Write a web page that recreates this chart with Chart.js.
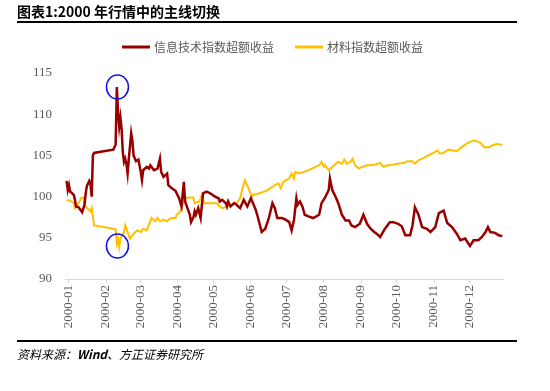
<!DOCTYPE html>
<html>
<head>
<meta charset="utf-8">
<script src="https://cdn.jsdelivr.net/npm/chart.js@4.4.1/dist/chart.umd.min.js"></script>
<style>
body{margin:0;background:#fff;}
</style>
</head>
<body>
<canvas id="trendChart" width="550" height="391"></canvas>
<script>

// day of year 2000 (Jan 1 = 0)
const itDays = [-2,-1,0,1,2,4,5,6,8,10,11,13,14,15,17,18,19,20,21,29,37,39,40,41,42,43,44,45,46,47,48,49,50,52,53,54,56,58,60,61,62,65,67,68,71,74,76,77,79,82,83,86,89,92,94,96,97,99,101,102,104,105,106,108,110,112,115,118,122,125,126,128,131,132,133,135,138,140,143,146,149,152,156,158,161,164,167,170,172,174,178,181,184,186,188,190,191,193,195,197,200,204,209,211,214,217,218,220,223,225,228,231,234,236,239,243,246,249,252,255,257,260,264,268,271,275,278,281,285,287,289,292,295,299,302,306,309,313,316,320,324,327,331,335,338,342,345,348,350,352,356,359,362];
const itValues = [101.9,100.8,101.4,100.6,100.5,100.2,99.6,98.8,98.7,98.3,98.1,99.0,100.4,101.3,101.9,101.5,100.0,105.0,105.3,105.5,105.7,106.3,113.3,110.3,108.5,109.6,108.2,105.4,104.2,104.6,104.0,102.8,104.6,107.7,106.8,105.0,104.3,104.5,103.0,102.0,103.2,103.6,103.4,103.8,103.2,103.4,104.6,103.0,102.4,102.8,101.4,101.0,100.7,99.8,98.8,101.8,99.4,98.6,97.8,96.9,97.5,98.2,97.8,98.6,97.4,100.4,100.6,100.4,100.0,99.8,99.4,99.6,99.2,98.8,99.4,98.8,99.2,99.0,98.6,99.6,98.8,99.8,98.4,97.4,95.7,96.1,97.4,99.2,98.6,97.4,97.4,97.2,96.9,95.9,97.2,99.8,99.0,99.4,98.8,97.8,97.6,97.4,97.8,99.2,99.9,100.8,102.2,100.8,99.9,99.2,97.8,97.1,97.1,96.5,96.3,96.7,97.8,96.7,96.1,95.7,95.5,95.1,96.1,96.9,96.9,96.7,96.4,95.3,95.3,96.5,98.7,97.8,96.3,96.1,95.7,96.3,98.0,98.3,96.8,96.3,95.5,94.7,94.9,94.0,94.7,94.7,95.1,95.7,96.3,95.7,95.6,95.3,95.2];

const matDays = [-2,1,4,5,8,10,12,13,14,18,19,21,29,37,39,40,41,42,43,44,46,47,49,50,51,54,57,60,62,65,69,72,74,76,79,82,85,89,90,92,94,97,100,104,105,109,111,113,118,124,125,128,132,136,140,143,145,147,150,153,154,159,163,166,168,172,175,177,179,184,186,188,189,192,196,200,203,206,209,211,213,214,217,220,223,225,228,230,232,235,237,239,242,245,249,252,256,260,263,266,271,275,280,283,287,289,292,295,299,303,308,310,313,317,321,324,328,333,336,338,341,344,347,351,355,358,360,362];
const matValues = [99.6,99.5,99.2,98.6,99.2,99.8,99.9,99.2,98.8,98.2,98.6,96.5,96.3,96.1,96.0,94.3,94.9,93.9,94.9,95.2,95.7,96.5,95.7,95.3,94.9,95.5,95.9,95.7,96.1,95.9,97.4,97.0,97.4,97.0,97.2,97.0,97.4,97.4,97.8,98.0,98.6,99.8,99.9,99.9,99.2,99.4,100.2,99.2,99.2,99.2,98.9,98.6,98.8,99.0,99.2,99.8,101.0,102.0,101.0,100.0,100.2,100.4,100.6,100.8,101.0,101.4,101.6,101.0,101.8,102.2,102.8,102.2,103.0,102.8,103.0,103.2,103.4,103.6,103.8,104.2,103.6,103.8,103.2,103.6,104.0,104.2,104.0,104.5,104.0,104.2,104.6,103.8,103.4,103.6,103.8,103.8,103.9,104.1,103.6,103.8,103.9,104.0,104.1,104.3,104.3,104.0,104.4,104.6,104.9,105.2,105.6,105.2,105.3,105.7,105.6,105.5,106.0,106.5,106.7,106.8,106.7,106.5,106.0,106.0,106.3,106.4,106.3,106.3];

const monthTicks = [0,31,60,91,121,152,182,213,244,274,305,335];
const monthLabels = ["2000-01","2000-02","2000-03","2000-04","2000-05","2000-06","2000-07","2000-08","2000-09","2000-10","2000-11","2000-12"];

const seriesNames = ["信息技术指数超额收益","材料指数超额收益"];

// the two blue rings drawn on the February spike
const circleMarks = [{day:40.5,value:113.3},{day:40.5,value:94.0}];

function toPoints(days, values){
    return days.map((d,i)=>({x:d,y:values[i]}));
}

const decor = {
    id:"decor",
    afterDatasetsDraw(chart){
        const ctx = chart.ctx;
        const xs = chart.scales.x;
        const ys = chart.scales.y;
        ctx.save();
        ctx.strokeStyle = "#1010f0";
        ctx.lineWidth = 1.5;
        circleMarks.forEach(c=>{
            ctx.beginPath();
            ctx.ellipse(xs.getPixelForValue(c.day), ys.getPixelForValue(c.value), 11, 12, 0, 0, Math.PI*2);
            ctx.stroke();
        });
        ctx.restore();
    },
    afterDraw(chart){
        const ctx = chart.ctx;
        ctx.save();
        ctx.textBaseline = "middle";

        // title and rules
        ctx.fillStyle = "#000";
        ctx.font = "bold 14px 'Noto Sans CJK SC'";
        ctx.fillText("图表1:2000 年行情中的主线切换", 17, 12);
        ctx.fillRect(17, 21, 500, 2);
        ctx.fillRect(17, 340, 500, 2);

        // legend
        const legendX = [122, 295];
        ctx.font = "12px 'Noto Sans CJK SC'";
        chart.data.datasets.forEach((ds,i)=>{
            ctx.fillStyle = ds.borderColor;
            ctx.fillRect(legendX[i], 45.5, 28, 3);
            ctx.fillStyle = "#595959";
            ctx.fillText(ds.label, legendX[i]+32, 47);
        });

        // source
        let x = 17;
        ctx.fillStyle = "#000";
        ctx.font = "italic 12px 'Noto Sans CJK SC'";
        ctx.fillText("资料来源：", x, 354);
        x += ctx.measureText("资料来源：").width;
        ctx.font = "italic bold 12px 'Noto Sans CJK SC'";
        ctx.fillText("Wind", x, 354);
        x += ctx.measureText("Wind").width;
        ctx.font = "italic 12px 'Noto Sans CJK SC'";
        ctx.fillText("、方正证券研究所", x, 354);

        ctx.restore();
    }
};

const chartInstance = new Chart(document.getElementById("trendChart"),{
    type:"line",
    data:{
        datasets:[{
            label:seriesNames[0],
            data:toPoints(itDays,itValues),
            borderColor:"#980000",
            borderWidth:2.5,
            pointRadius:0,
            tension:0
        },{
            label:seriesNames[1],
            data:toPoints(matDays,matValues),
            borderColor:"#ffc000",
            borderWidth:2,
            pointRadius:0,
            tension:0
        }]
    },
    options:{
        responsive:false,
        animation:false,
        layout:{padding:{left:0,right:47,top:73,bottom:0}},
        plugins:{
            title:{display:false},
            tooltip:{enabled:false},
            legend:{display:false}
        },
        scales:{
            x:{
                type:"linear",
                min:-3.3,
                max:362.6,
                afterBuildTicks(scale){
                    scale.ticks = monthTicks.map(v=>({value:v}));
                },
                afterFit(scale){
                    scale.height = 112;
                },
                grid:{display:true,drawOnChartArea:false,drawTicks:true,tickLength:4,color:"#d9d9d9"},
                border:{display:true,color:"#d9d9d9"},
                ticks:{
                    autoSkip:false,
                    maxRotation:90,
                    minRotation:90,
                    padding:2,
                    color:"#595959",
                    font:{family:"'Liberation Serif'",size:13},
                    callback(value){
                        return monthLabels[monthTicks.indexOf(value)];
                    }
                }
            },
            y:{
                min:90,
                max:115,
                afterFit(scale){
                    scale.width = 65;
                },
                grid:{display:false,drawTicks:false},
                border:{display:false},
                ticks:{
                    stepSize:5,
                    padding:13,
                    color:"#595959",
                    font:{family:"'Liberation Serif'",size:13}
                }
            }
        }
    },
    plugins:[decor]
});
</script>
</body>
</html>
